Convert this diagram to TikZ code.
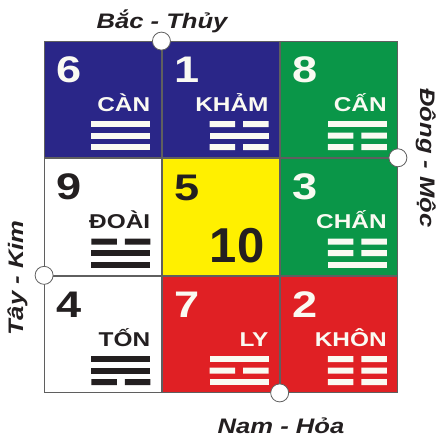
\documentclass[tikz,border=0pt]{standalone}
\usepackage{fontspec}
\setmainfont{Liberation Sans}
\newfontfamily\widesf[FakeStretch=1.22]{Liberation Sans}
\definecolor{navy}{RGB}{42,38,136}
\definecolor{jade}{RGB}{10,150,72}
\definecolor{lemon}{RGB}{255,240,0}
\definecolor{scarlet}{RGB}{224,32,36}
\definecolor{ink}{RGB}{35,31,32}
\definecolor{chalk}{RGB}{250,250,242}
\definecolor{rule}{RGB}{95,95,95}

% #1 cell, #2 colour, #3-#5 lines from top (1 = solid, 0 = broken)
\newcommand\gua[5]{%
  \begin{scope}[shift={(#1.north east)}]
    \foreach \yy/\kk in {80/#3, 91.5/#4, 103/#5}{
      \ifnum\kk=1
        \fill[#2] (-70,\yy) rectangle ++(59,6);
      \else
        \fill[#2] (-70,\yy) rectangle ++(25.5,6) (-36.5,\yy) rectangle ++(25.5,6);
      \fi}
  \end{scope}}

\begin{document}
\begin{tikzpicture}[x=1pt, y=-1pt,
    cell/.style={draw=rule, line width=0.9pt, minimum width=117.33pt,
      minimum height=116.67pt, inner sep=0pt, outer sep=0pt},
    num/.style={font=\widesf\bfseries\fontsize{37}{37}\selectfont, inner sep=0pt, anchor=base west},
    lbl/.style={font=\widesf\bfseries\fontsize{20}{20}\selectfont, inner sep=0pt, anchor=base east},
    dir/.style={font=\widesf\bfseries\itshape\fontsize{21}{21}\selectfont, text=ink, inner sep=0pt, anchor=base},
    gate/.style={circle, draw=rule, fill=white, line width=0.8pt, minimum size=18pt, inner sep=0pt}]
  \useasboundingbox (0,0) rectangle (438,437);
  \matrix[column sep=0pt, row sep=0pt, inner sep=0pt, outer sep=0pt] at (221,217)
  {
    \node[cell, fill=navy](c6) {}; & \node[cell, fill=navy](c1) {}; & \node[cell, fill=jade](c8) {}; \\
    \node[cell, fill=white](c9) {}; & \node[cell, fill=lemon](c5) {}; & \node[cell, fill=jade](c3) {}; \\
    \node[cell, fill=white](c4) {}; & \node[cell, fill=scarlet](c7) {}; & \node[cell, fill=scarlet](c2) {}; \\
  };

  % numbers
  \node[num, text=chalk] (n6) at ([shift={(12,41)}]c6.north west) {6};
  \node[num, text=chalk] (n1) at ([shift={(12,41)}]c1.north west) {1};
  \node[num, text=chalk] (n8) at ([shift={(12,41)}]c8.north west) {8};
  \node[num, text=ink] (n9) at ([shift={(12,41)}]c9.north west) {9};
  \node[num, text=ink] (n5) at ([shift={(12,42)}]c5.north west) {5};
  \node[num, text=chalk] (n3) at ([shift={(12,41)}]c3.north west) {3};
  \node[num, text=ink] (n4) at ([shift={(12,41)}]c4.north west) {4};
  \node[num, text=chalk] (n7) at ([shift={(12,41)}]c7.north west) {7};
  \node[num, text=chalk] (n2) at ([shift={(12,41)}]c2.north west) {2};
  \node[font=\bfseries\fontsize{49}{49}\selectfont, text=ink, inner sep=0pt, anchor=base east]
    (n10) at ([shift={(-15,104)}]c5.north east) {10};

  % names
  \node[lbl, text=chalk] (l6) at ([shift={(-11,70)}]c6.north east) {CÀN};
  \node[lbl, text=chalk] (l1) at ([shift={(-11,70)}]c1.north east) {KHẢM};
  \node[lbl, text=chalk] (l8) at ([shift={(-11,70)}]c8.north east) {CẤN};
  \node[lbl, text=ink] (l9) at ([shift={(-11,70)}]c9.north east) {ĐOÀI};
  \node[lbl, text=chalk] (l3) at ([shift={(-11,70)}]c3.north east) {CHẤN};
  \node[lbl, text=ink] (l4) at ([shift={(-11,70)}]c4.north east) {TỐN};
  \node[lbl, text=chalk] (l7) at ([shift={(-11,70)}]c7.north east) {LY};
  \node[lbl, text=chalk] (l2) at ([shift={(-11,70)}]c2.north east) {KHÔN};

  % trigrams
  \gua{c6}{chalk}{1}{1}{1}
  \gua{c1}{chalk}{0}{1}{0}
  \gua{c8}{chalk}{1}{0}{0}
  \gua{c9}{ink}{0}{1}{1}
  \gua{c3}{chalk}{0}{0}{1}
  \gua{c4}{ink}{1}{1}{0}
  \gua{c7}{chalk}{1}{0}{1}
  \gua{c2}{chalk}{0}{0}{0}

  % gates
  \node[gate] (gn) at (c6.north east) {};
  \node[gate] (ge) at (c8.south east) {};
  \node[gate] (gw) at (c9.south west) {};
  \node[gate] (gs) at (c7.south east) {};

  % directions
  \node[dir] (dn) at (162,28) {Bắc - Thủy};
  \node[dir, rotate=-90] (de) at (420,158) {Đông - Mộc};
  \node[dir, rotate=90] (dw) at (23,278) {Tây - Kim};
  \node[dir] (ds) at (281,433) {Nam - Hỏa};
\end{tikzpicture}
\end{document}
